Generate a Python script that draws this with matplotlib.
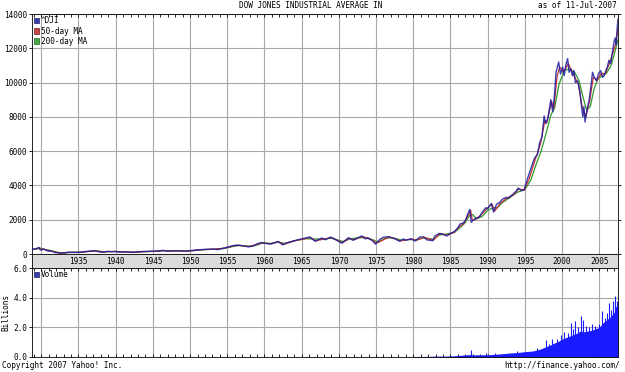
import numpy as np
import matplotlib
matplotlib.use("Agg")
import matplotlib.pyplot as plt
from matplotlib.patches import Patch

# DATA (decimal years)
dji_t = [1928.75, 1929.0, 1929.3, 1929.68, 1929.87, 1930.0, 1930.3, 1930.6, 1930.95, 1931.2,
         1931.5, 1931.9, 1932.2, 1932.5, 1932.7, 1933.1, 1933.55, 1934.0, 1934.5, 1935.2,
         1935.9, 1936.5, 1937.2, 1937.8, 1938.25, 1938.9, 1939.5, 1940.0, 1940.4, 1941.0,
         1941.9, 1942.3, 1943.0, 1943.5, 1944.5, 1945.5, 1946.4, 1946.8, 1947.5, 1948.4,
         1949.4, 1950.0, 1950.5, 1951.0, 1952.0, 1953.0, 1953.7, 1954.5, 1955.0, 1955.7,
         1956.3, 1957.0, 1957.8, 1958.5, 1959.0, 1959.6, 1960.0, 1960.8, 1961.8, 1962.45,
         1963.0, 1963.9, 1964.9, 1966.1, 1966.8, 1967.7, 1968.2, 1968.9, 1969.5, 1970.4,
         1971.0, 1971.3, 1971.9, 1972.9, 1973.05, 1973.6, 1973.9, 1974.5, 1974.93, 1975.5,
         1976.0, 1976.7, 1977.5, 1978.15, 1978.7, 1978.9, 1979.7, 1980.25, 1980.9, 1981.4,
         1981.8, 1982.6, 1982.9, 1983.5, 1984.0, 1984.5, 1984.9, 1985.5, 1985.95, 1986.3,
         1986.7, 1987.0, 1987.3, 1987.62, 1987.8, 1988.0, 1988.5, 1988.9, 1989.35, 1989.75,
         1990.0, 1990.5, 1990.8, 1991.2, 1991.6, 1992.0, 1992.5, 1992.8, 1993.3, 1993.8,
         1994.1, 1994.5, 1994.9, 1995.4, 1995.9, 1996.3, 1996.7, 1997.0, 1997.3, 1997.6,
         1997.8, 1998.1, 1998.5, 1998.75, 1999.0, 1999.2, 1999.55, 1999.8, 2000.1, 2000.3,
         2000.5, 2000.76, 2000.95, 2001.2, 2001.4, 2001.6, 2001.8, 2002.1, 2002.4, 2002.6,
         2002.8, 2002.95, 2003.1, 2003.35, 2003.66, 2003.9, 2004.1, 2004.35, 2004.64, 2004.9,
         2005.2, 2005.45, 2005.67, 2005.9, 2006.1, 2006.3, 2006.55, 2006.8, 2007.0, 2007.15,
         2007.25, 2007.4, 2007.52]
dji_v = [240, 300, 310, 381, 230, 250, 294, 230, 165, 190,
         140, 80, 80, 41, 75, 55, 105, 100, 90, 97,
         144, 160, 194, 120, 99, 155, 130, 150, 112, 130,
         110, 93, 120, 145, 150, 170, 212, 163, 180, 190,
         161, 200, 210, 240, 270, 285, 260, 340, 400, 480,
         520, 490, 420, 460, 590, 670, 630, 580, 730, 535,
         650, 760, 870, 995, 744, 930, 830, 985, 850, 631,
         840, 950, 800, 1020, 1051, 880, 950, 780, 577, 850,
         980, 1010, 900, 742, 880, 800, 890, 760, 990, 1000,
         830, 777, 1050, 1200, 1150, 1050, 1180, 1300, 1500, 1750,
         1800, 1950, 2300, 2600, 1850, 1950, 2100, 2150, 2480, 2700,
         2650, 2950, 2450, 2900, 3000, 3200, 3300, 3250, 3450, 3650,
         3850, 3700, 3750, 4450, 5100, 5600, 5800, 6500, 6800, 8050,
         7600, 7900, 9000, 8300, 9300, 10600, 11200, 10500, 10900, 10400,
         11000, 11400, 10600, 10800, 10400, 10700, 10000, 10100, 9500, 8700,
         8000, 8600, 7700, 8400, 9000, 9800, 10600, 10300, 10100, 10500,
         10700, 10300, 10400, 10700, 10900, 11300, 11100, 11800, 12400, 12600,
         12200, 13000, 13700]

ma50_t = [1929.0, 1929.8, 1930.1, 1930.4, 1931.0, 1931.6, 1932.0, 1932.6, 1932.9, 1933.7,
          1934.5, 1935.5, 1936.0, 1937.3, 1937.9, 1938.4, 1939.0, 1940.0, 1940.6, 1942.0,
          1942.5, 1943.6, 1945.6, 1946.5, 1946.9, 1948.5, 1949.6, 1951.0, 1953.0, 1954.6,
          1955.8, 1956.4, 1957.9, 1959.7, 1960.9, 1961.9, 1962.6, 1964.0, 1966.2, 1966.9,
          1969.0, 1970.5, 1971.4, 1972.0, 1973.2, 1974.6, 1975.0, 1976.8, 1978.3, 1979.8,
          1980.4, 1981.5, 1982.7, 1983.6, 1984.6, 1985.6, 1986.1, 1986.8, 1987.4, 1987.72,
          1987.95, 1988.6, 1989.5, 1989.9, 1990.6, 1990.95, 1991.7, 1992.6, 1993.5, 1994.2,
          1994.9, 1995.6, 1996.4, 1997.1, 1997.7, 1997.95, 1998.6, 1998.9, 1999.35, 1999.7,
          2000.2, 2000.85, 2001.5, 2002.2, 2002.7, 2003.2, 2003.75, 2004.2, 2004.75, 2005.3,
          2005.8, 2006.4, 2006.9, 2007.3, 2007.52]
ma50_v = [270, 360, 240, 280, 180, 150, 90, 55, 65, 95,
          95, 105, 140, 185, 135, 110, 145, 148, 120, 108,
          98, 140, 165, 205, 172, 185, 165, 235, 280, 335,
          470, 510, 430, 650, 590, 715, 560, 765, 960, 770,
          960, 660, 920, 830, 1020, 800, 620, 990, 770, 870,
          800, 970, 800, 1200, 1100, 1290, 1550, 1790, 2250, 2550,
          1950, 2080, 2450, 2650, 2900, 2500, 2950, 3270, 3450, 3800,
          3720, 4400, 5500, 6400, 7800, 7650, 8900, 8500, 10400, 10900,
          10600, 11100, 10500, 9900, 8600, 8000, 9000, 10300, 10150, 10550,
          10500, 11150, 11800, 12400, 13200]

ma200_t = [1929.2, 1929.9, 1930.5, 1931.0, 1931.6, 1932.3, 1932.9, 1933.6, 1934.3, 1935.3,
           1936.0, 1937.0, 1937.7, 1938.5, 1939.2, 1940.0, 1940.8, 1942.0, 1942.9, 1944.0,
           1945.5, 1946.5, 1947.3, 1948.5, 1949.7, 1950.5, 1952.0, 1953.5, 1954.7, 1955.8,
           1956.6, 1957.9, 1958.8, 1959.8, 1960.8, 1961.9, 1962.8, 1964.0, 1965.5, 1966.9,
           1967.9, 1969.0, 1970.6, 1971.5, 1972.6, 1973.6, 1974.5, 1975.3, 1976.3, 1977.3,
           1978.5, 1979.5, 1980.5, 1981.5, 1982.7, 1983.5, 1984.5, 1985.5, 1986.2, 1986.9,
           1987.6, 1988.0, 1988.5, 1989.3, 1990.0, 1990.8, 1991.3, 1992.0, 1993.0, 1994.0,
           1995.0, 1995.8, 1996.5, 1997.2, 1997.9, 1998.5, 1999.0, 1999.6, 2000.3, 2001.0,
           2001.7, 2002.3, 2002.8, 2003.3, 2003.8, 2004.3, 2004.8, 2005.4, 2006.0, 2006.6,
           2007.0, 2007.52]
ma200_v = [280, 330, 260, 230, 160, 90, 60, 80, 100, 100,
           130, 170, 175, 130, 140, 145, 130, 115, 105, 140,
           160, 195, 180, 180, 170, 200, 260, 275, 330, 440,
           490, 460, 500, 640, 620, 690, 620, 770, 890, 870,
           880, 920, 730, 880, 950, 950, 840, 700, 940, 940,
           800, 840, 830, 950, 850, 1100, 1170, 1250, 1500, 1780,
           2250, 2300, 2050, 2200, 2550, 2700, 2700, 3000, 3300, 3600,
           3750, 4300, 5200, 6000, 7100, 8100, 8500, 9900, 10700, 10800,
           10600, 10100, 9200, 8400, 8600, 9600, 10200, 10400, 10550, 11000,
           11600, 12500]

# volume in billions
vol_t = [1980.0, 1982.0, 1983.0, 1984.5, 1985.5, 1986.5, 1987.5, 1988.0, 1989.0, 1990.0,
         1991.0, 1992.0, 1993.0, 1994.0, 1995.0, 1996.0, 1996.5, 1997.0, 1997.5, 1998.0,
         1998.5, 1999.0, 1999.5, 2000.0, 2000.5, 2001.0, 2001.5, 2002.0, 2002.5, 2003.0,
         2003.5, 2004.0, 2004.5, 2005.0, 2005.5, 2006.0, 2006.5, 2007.0, 2007.25, 2007.52]
vol_v = [0.03, 0.04, 0.06, 0.06, 0.08, 0.12, 0.16, 0.14, 0.15, 0.15,
         0.18, 0.22, 0.27, 0.3, 0.36, 0.4, 0.45, 0.52, 0.62, 0.72,
         0.82, 0.95, 1.05, 1.2, 1.3, 1.4, 1.5, 1.6, 1.75, 1.7,
         1.75, 1.8, 1.9, 2.0, 2.3, 2.5, 2.7, 3.0, 3.4, 3.6]
spike_t = [1987.8, 1989.8, 1991.0, 1994.0, 1996.6, 1997.8, 1998.2, 1998.7, 1999.3, 1999.9,
           2000.3, 2000.8, 2001.2, 2001.5, 2001.7, 2002.2, 2002.5, 2002.8, 2003.2, 2003.6,
           2004.0, 2004.5, 2005.0, 2005.4, 2005.8, 2006.1, 2006.3, 2006.6, 2006.9, 2007.15,
           2007.35, 2007.5]
spike_v = [0.48, 0.3, 0.28, 0.4, 0.6, 1.16, 0.9, 1.2, 1.2, 1.5,
           1.7, 1.6, 2.3, 1.9, 2.4, 2.0, 2.75, 2.5, 2.1, 2.0,
           2.2, 2.1, 2.2, 3.1, 2.6, 3.0, 3.67, 3.2, 3.78, 4.1,
           3.8, 4.3]

years = list(range(1930, 2010, 5))
year_labels = [str(y) for y in range(1935, 2010, 5)]
price_ticks = list(range(0, 14001, 2000))
vol_ticks = [0.0, 2.0, 4.0, 6.0]

XMIN, XMAX = 1928.75, 2007.53
mono = "DejaVu Sans Mono"
fs = 5.6
grid_c = "#a8a8a8"
vol_c = "#1a1aff"

fig = plt.figure(figsize=(6.25, 3.72), dpi=100)
W, H = 625.0, 372.0
def box(l, t, r, b):
    return [l / W, 1 - b / H, (r - l) / W, (b - t) / H]

ax = fig.add_axes(box(32, 14, 618, 254))
strip = fig.add_axes(box(32, 254, 618, 268))
axv = fig.add_axes(box(32, 268, 618, 357))

# price panel
ax.plot(ma200_t, ma200_v, color="#2e9a2e", lw=0.9, zorder=3)
ax.plot(ma50_t, ma50_v, color="#cc3333", lw=0.9, zorder=4)
ax.plot(dji_t, dji_v, color="#1c1ca0", lw=1.0, alpha=0.85, zorder=5)
ax.set_xlim(XMIN, XMAX)
ax.set_ylim(0, 14000)
ax.set_yticks(price_ticks)
ax.set_yticklabels([str(v) for v in price_ticks], fontsize=fs, family=mono)
ax.set_xticks(years)
ax.set_xticks(np.arange(1929, 2008, 1), minor=True)
ax.tick_params(axis="x", which="both", labelbottom=False, bottom=False, top=True, direction="in", length=2.5, width=0.6)
ax.tick_params(axis="y", direction="out", length=2.5, pad=1, right=True, width=0.6)
ax.grid(True, color=grid_c, lw=0.8)
ax.set_axisbelow(True)
handles = [Patch(facecolor="#3b3bb0", edgecolor="#222266", lw=0.5, label="^DJI"),
           Patch(facecolor="#cc4444", edgecolor="#662222", lw=0.5, label="50-day MA"),
           Patch(facecolor="#44aa44", edgecolor="#226622", lw=0.5, label="200-day MA")]
ax.legend(handles=handles, loc="upper left", frameon=False, prop={"family": mono, "size": fs},
          handlelength=0.6, handleheight=0.7, handletextpad=0.2, labelspacing=0.15,
          borderaxespad=0.2, borderpad=0.1)

# date strip
strip.set_facecolor("#dcdcdc")
strip.set_xlim(XMIN, XMAX)
strip.set_ylim(0, 1)
strip.set_yticks([])
strip.set_xticks([])
for y, lab in zip(range(1935, 2010, 5), year_labels):
    strip.text(y, 0.45, lab, ha="center", va="center", fontsize=fs, family=mono)
for s in strip.spines.values():
    s.set_linewidth(0.6)

# volume panel
axv.fill_between(vol_t, vol_v, color=vol_c, lw=0)
axv.vlines(spike_t, 0, spike_v, color=vol_c, lw=0.8)
axv.set_xlim(XMIN, XMAX)
axv.set_ylim(0, 6.0)
axv.set_yticks(vol_ticks)
axv.set_yticklabels(["%.1f" % v for v in vol_ticks], fontsize=fs, family=mono)
axv.set_xticks(years)
axv.set_xticks(np.arange(1929, 2008, 1), minor=True)
axv.tick_params(axis="x", which="both", labelbottom=False, bottom=True, top=True, direction="in", length=2.5, width=0.6)
axv.tick_params(axis="y", direction="out", length=2.5, pad=1, width=0.6)
axv.grid(True, color=grid_c, lw=0.8)
axv.set_axisbelow(True)
axv.set_ylabel("Billions", fontsize=fs, family=mono, labelpad=2)
axv.legend(handles=[Patch(facecolor="#3b3bb0", edgecolor="#222266", lw=0.5, label="Volume")],
           loc="upper left", frameon=False, prop={"family": mono, "size": fs},
           handlelength=0.6, handleheight=0.7, handletextpad=0.2, borderaxespad=0.2, borderpad=0.1)

for a in (ax, axv):
    for s in a.spines.values():
        s.set_linewidth(0.6)

fig.text(311 / W, 1 - 6 / H, "DOW JONES INDUSTRIAL AVERAGE IN", ha="center", va="center", fontsize=fs, family=mono)
fig.text(617 / W, 1 - 6 / H, "as of 11-Jul-2007", ha="right", va="center", fontsize=fs, family=mono)
fig.text(2 / W, 1 - 366 / H, "Copyright 2007 Yahoo! Inc.", ha="left", va="center", fontsize=fs, family=mono)
fig.text(620 / W, 1 - 366 / H, "http://finance.yahoo.com/", ha="right", va="center", fontsize=fs, family=mono)

fig.savefig("out.png", dpi=100)
